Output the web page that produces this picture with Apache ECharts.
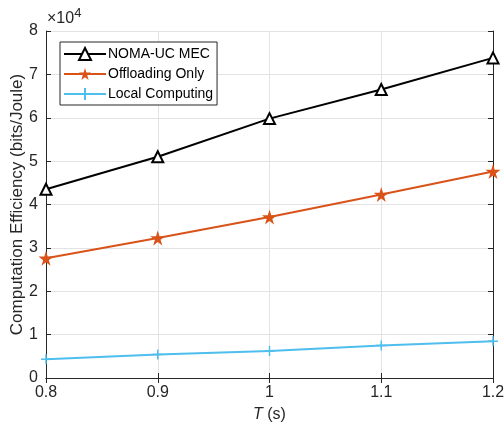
<!DOCTYPE html>
<html><head><meta charset="utf-8">
<script src="https://cdn.jsdelivr.net/npm/echarts@6/dist/echarts.min.js"></script>
<style>html,body{margin:0;padding:0;background:#fff}#c{width:504px;height:427px}</style>
</head><body><div id="c"></div>
<script>
const categories = ['0.8', '0.9', '1', '1.1', '1.2'];
const nomaUC = [4.35, 5.10, 5.98, 6.65, 7.38];
const offloadingOnly = [2.76, 3.23, 3.71, 4.23, 4.76];
const localComputing = [0.43, 0.54, 0.62, 0.75, 0.85];
const yTicks = [0, 1, 2, 3, 4, 5, 6, 7, 8];

const FONT = '"Liberation Sans", Arial, sans-serif';
const AX = '#262626';
const star = 'path://M50,0 L61,35 L98,35 L68,57 L79,91 L50,70 L21,91 L32,57 L2,35 L39,35 Z';
const plus = 'path://M0,5 L10,5 M5,0 L5,10';

const chart = echarts.init(document.getElementById('c'));
chart.setOption({
  animation: false,
  textStyle: { fontFamily: FONT },
  grid: { left: 46, right: 11, top: 31, bottom: 49, show: false, containLabel: false, outerBoundsMode: 'none' },
  graphic: [{
    type: 'text', left: 47, top: 7,
    style: { text: '×10{s|4}', rich: { s: { fontSize: 13, verticalAlign: 'top', padding: [0,0,10,0], fill: AX, fontFamily: FONT } }, fontSize: 16, fill: AX, fontFamily: FONT }
  }],
  legend: {
    orient: 'vertical', left: 60, top: 42,
    backgroundColor: '#fff', borderColor: AX, borderWidth: 1,
    padding: [5, 4, 4, 3], itemGap: 6, itemWidth: 42, itemHeight: 15,
    textStyle: { fontSize: 14, color: '#000', fontFamily: FONT, padding: [0,0,0,-3] },
    data: ['NOMA-UC MEC', 'Offloading Only', 'Local Computing']
  },
  xAxis: [{
    type: 'category', data: categories, boundaryGap: false,
    axisLine: { lineStyle: { color: AX } },
    axisTick: { inside: true, length: 5, lineStyle: { color: AX } },
    axisLabel: { fontSize: 16, color: AX, margin: 7, fontFamily: FONT },
    splitLine: { show: true, lineStyle: { color: '#e3e3e3' } },
    name: '{i|T} (s)', nameLocation: 'middle', nameGap: 29, nameMoveOverlap: false,
    nameTextStyle: { fontSize: 16, color: AX, fontFamily: FONT, rich: { i: { fontStyle: 'italic', fontSize: 16, fontFamily: FONT, color: AX } } }
  }, {
    type: 'category', data: categories, boundaryGap: false, position: 'top',
    axisLine: { lineStyle: { color: AX } },
    axisTick: { inside: true, length: 5, lineStyle: { color: AX } },
    axisLabel: { show: false }, splitLine: { show: false }
  }],
  yAxis: [{
    type: 'value', min: 0, max: 8, interval: 1,
    axisLine: { show: true, lineStyle: { color: AX } },
    axisTick: { show: true, inside: true, length: 5, lineStyle: { color: AX } },
    axisLabel: { fontSize: 16, color: AX, margin: 8, fontFamily: FONT, formatter: v => yTicks.includes(v) ? String(v) : '' },
    splitLine: { show: true, lineStyle: { color: '#e3e3e3' } },
    name: 'Computation Efficiency (bits/Joule)', nameLocation: 'middle', nameGap: 20, nameMoveOverlap: false,
    nameTextStyle: { fontSize: 17, color: AX, fontFamily: FONT }
  }, {
    type: 'value', min: 0, max: 8, interval: 1, position: 'right',
    axisLine: { show: true, lineStyle: { color: AX } },
    axisTick: { show: true, inside: true, length: 5, lineStyle: { color: AX } },
    axisLabel: { show: false }, splitLine: { show: false }
  }],
  series: [{
    name: 'NOMA-UC MEC', type: 'line', data: nomaUC,
    symbol: 'emptyTriangle', symbolSize: 11, showAllSymbol: true,
    lineStyle: { color: '#000', width: 2 },
    itemStyle: { color: '#000', borderColor: '#000', borderWidth: 2 }
  }, {
    name: 'Offloading Only', type: 'line', data: offloadingOnly,
    symbol: star, symbolSize: 15,
    lineStyle: { color: '#D95319', width: 2 },
    itemStyle: { color: '#D95319', borderColor: '#D95319', borderWidth: 0 }
  }, {
    name: 'Local Computing', type: 'line', data: localComputing,
    symbol: plus, symbolSize: 10,
    lineStyle: { color: '#4DBEEE', width: 2 },
    itemStyle: { color: '#4DBEEE', borderColor: '#4DBEEE', borderWidth: 1.5 }
  }]
});
</script></body></html>
